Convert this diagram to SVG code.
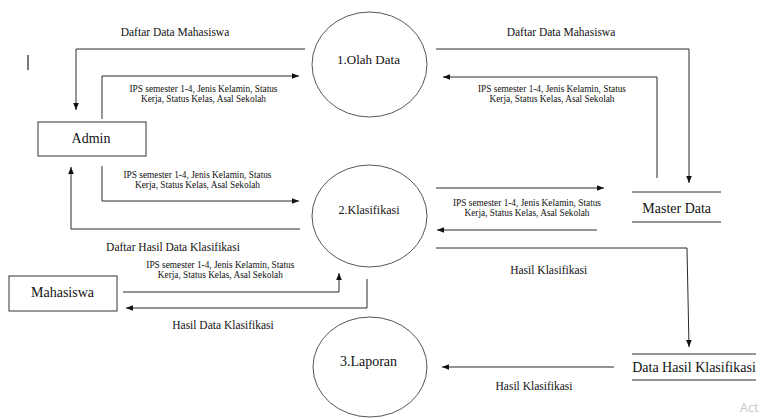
<svg xmlns="http://www.w3.org/2000/svg" width="763" height="419" viewBox="0 0 763 419">
<defs>
<style>
text.t{font-family:"Liberation Serif","Times New Roman","DejaVu Serif",serif;fill:#111;text-anchor:middle}
.n14{font-size:14px}
.e{font-size:11.5px}
.s{font-size:9.3px}
.ln{fill:none;stroke:#2a2a2a;stroke-width:1}
.ar{marker-end:url(#ah)}
.shape{fill:#fff;stroke:#333;stroke-width:1}
.proc{fill:#fff;stroke:#555;stroke-width:1}
</style>
<marker id="ah" viewBox="0 0 8 8" refX="8" refY="4" markerWidth="7" markerHeight="7" markerUnits="userSpaceOnUse" orient="auto">
<path d="M0,0.8 L8,4 L0,7.2 z" fill="#111"/>
</marker>
</defs>
<rect width="763" height="419" fill="#fff"/>

<g id="connectors">
<path class="ln ar" d="M305,49 H76 V110"/>
<path class="ln ar" d="M102,119 V76 H299"/>
<path class="ln ar" d="M436,49 H689 V183"/>
<path class="ln ar" d="M657,178 V77 H443"/>
<path class="ln ar" d="M102,166 V201 H299"/>
<path class="ln ar" d="M300,229 H71 V167"/>
<path class="ln ar" d="M436,188 H604"/>
<path class="ln ar" d="M597,230 H437"/>
<path class="ln ar" d="M436,248 H687 L689,347"/>
<path class="ln ar" d="M123,292 H339 V273"/>
<path class="ln ar" d="M367,279 V308 H126"/>
<path class="ln ar" d="M614,367 H442"/>
</g>

<g id="labels">
<text class="t e" x="175" y="35.5">Daftar Data Mahasiswa</text>
<text class="t e" x="561" y="35.5">Daftar Data Mahasiswa</text>
<text class="t s" x="203.5" y="92">IPS semester 1-4, Jenis Kelamin, Status</text>
<text class="t s" x="203.5" y="102">Kerja, Status Kelas, Asal Sekolah</text>
<text class="t s" x="552" y="92">IPS semester 1-4, Jenis Kelamin, Status</text>
<text class="t s" x="552" y="102">Kerja, Status Kelas, Asal Sekolah</text>
<text class="t s" x="197.5" y="177.8">IPS semester 1-4, Jenis Kelamin, Status</text>
<text class="t s" x="197.5" y="187.8">Kerja, Status Kelas, Asal Sekolah</text>
<text class="t s" x="527" y="205.5">IPS semester 1-4, Jenis Kelamin, Status</text>
<text class="t s" x="527" y="215.5">Kerja, Status Kelas, Asal Sekolah</text>
<text class="t e" x="173" y="251">Daftar Hasil Data Klasifikasi</text>
<text class="t s" x="220.3" y="267.8">IPS semester 1-4, Jenis Kelamin, Status</text>
<text class="t s" x="220.3" y="277.8">Kerja, Status Kelas, Asal Sekolah</text>
<text class="t e" x="548.7" y="273.6">Hasil Klasifikasi</text>
<text class="t e" x="223" y="329">Hasil Data Klasifikasi</text>
<text class="t e" x="534" y="390">Hasil Klasifikasi</text>
</g>

<g id="olah-data">
<ellipse class="proc" cx="369.5" cy="64.5" rx="57.5" ry="52.5"/>
<text class="t" style="font-size:13px" x="368.5" y="64">1.Olah Data</text>
</g>
<g id="klasifikasi">
<ellipse class="proc" cx="369.5" cy="216" rx="57.5" ry="51"/>
<text class="t" style="font-size:12px" x="369" y="214">2.Klasifikasi</text>
</g>
<g id="laporan">
<ellipse class="proc" cx="370" cy="367" rx="57" ry="50"/>
<text class="t n14" x="368.5" y="366">3.Laporan</text>
</g>
<g id="admin">
<rect class="shape" x="38" y="122" width="108" height="34"/>
<text class="t n14" x="91" y="143">Admin</text>
</g>
<g id="mahasiswa">
<rect class="shape" x="9" y="276" width="108" height="35"/>
<text class="t n14" x="62.5" y="297">Mahasiswa</text>
</g>
<g id="master-data">
<line class="ln" x1="632" y1="192" x2="721" y2="192"/>
<line class="ln" x1="632" y1="222" x2="721" y2="222"/>
<text class="t n14" x="676.7" y="213">Master Data</text>
</g>
<g id="data-hasil-klasifikasi">
<line class="ln" x1="632" y1="354" x2="756" y2="354"/>
<line class="ln" x1="632" y1="380" x2="756" y2="380"/>
<text class="t n14" x="694" y="371.7">Data Hasil Klasifikasi</text>
</g>

<line x1="28" y1="55" x2="28" y2="70" stroke="#333" stroke-width="1.3"/>
<text x="740" y="412" style="font-family:'Open Sans','Liberation Sans',sans-serif;font-size:12.5px;fill:#c4c4c4">Act</text>
</svg>
